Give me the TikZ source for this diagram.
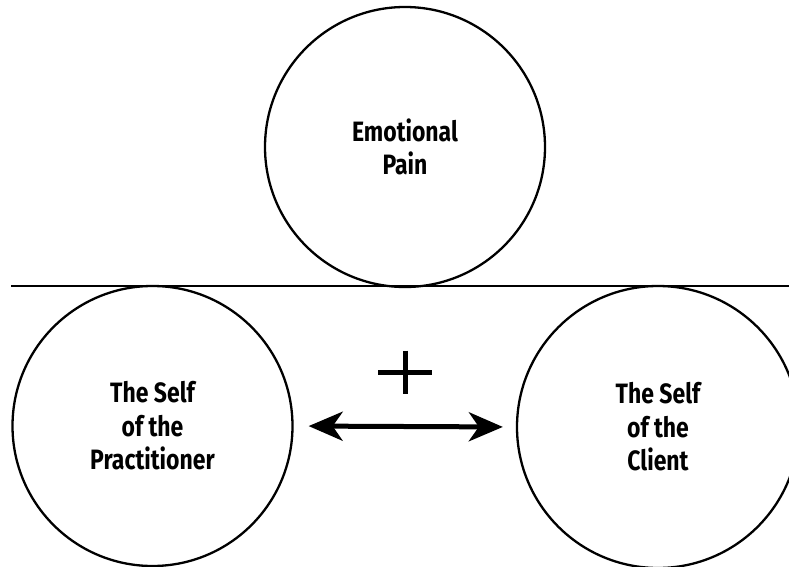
\documentclass[tikz,border=0pt]{standalone}
\usepackage{fontspec}
\setmainfont{Fira Sans}[FakeStretch=0.82]
\usetikzlibrary{arrows.meta}
\begin{document}
\begin{tikzpicture}[x=1pt,y=-1pt,
  ring/.style={circle,draw,line width=2.3pt,minimum size=280pt,inner sep=0pt,
    align=center,font=\fontsize{28}{33.5}\selectfont\bfseries},
  link/.style={line width=5pt,{Stealth[length=34pt,width=29pt,inset=10pt]}-{Stealth[length=34pt,width=29pt,inset=10pt]},shorten <=15pt,shorten >=13pt},
  plusbar/.style={line width=5pt}]
\useasboundingbox (0,0) rectangle (789,567);
\clip (0,0) rectangle (789,567);
\node[ring] (pain) at (405,147) {Emotional\\Pain};
\node[ring] (prac) at (152.5,426) {The Self\\of the\\Practitioner};
\node[ring,minimum size=282pt] (client) at (658,427) {The Self\\of the\\Client};
\coordinate (lstart) at (11,286);
\coordinate (lend) at (789,286);
\draw[line width=2.3pt] (lstart) -- (lend);
\node[inner sep=0pt,minimum size=0pt] (plus) at (405,372) {};
\draw[plusbar] ([xshift=-27pt]plus.center) -- ([xshift=27pt]plus.center);
\draw[plusbar] ([yshift=21.5pt]plus.center) -- ([yshift=-22pt]plus.center);
\draw[link] (prac.east) -- (client.west);
\end{tikzpicture}
\end{document}
